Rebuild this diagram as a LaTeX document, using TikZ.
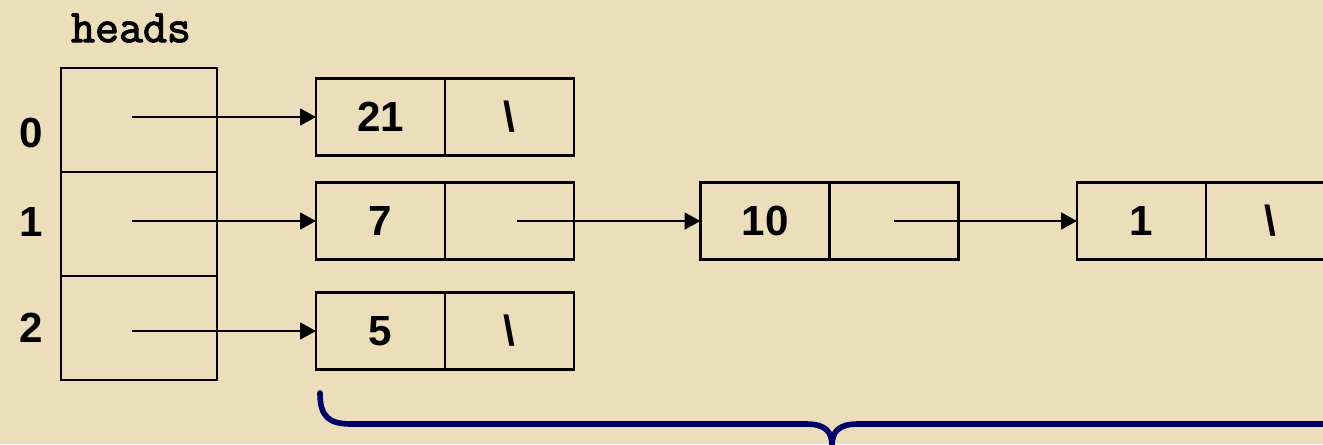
\documentclass[tikz,border=0pt]{standalone}
\usepackage{fontspec}
\setmainfont{Liberation Sans}
\newfontfamily\headsfont[FakeBold=2.5]{Latin Modern Mono}
\usetikzlibrary{arrows.meta,positioning}
\definecolor{parchment}{RGB}{236,222,186}
\definecolor{bracenavy}{RGB}{0,0,102}

\begin{document}
\begin{tikzpicture}[x=0.02cm, y=-0.02cm,
    every node/.style={font=\fontsize{24}{28}\selectfont\bfseries},
    slot/.style={draw, line width=1.3pt, outer sep=0pt, inner sep=0pt,
      minimum width=3.12cm, minimum height=2.08cm},
    cell/.style={draw, line width=1.3pt, outer sep=0pt, inner sep=0pt,
      minimum width=2.58cm, minimum height=1.54cm},
    ptr/.style={line width=1.3pt, -{Triangle[length=9pt,width=9.5pt]}}]
    \fill[parchment] (0,0) rectangle (1323,444);
    \useasboundingbox (0,0) rectangle (1323,444);

    % heads array
    \node[font=\fontsize{26.5}{28}\selectfont\headsfont] (heads) at (131,28) {heads};
    \node[slot] (h0) at (139,120) {};
    \node[slot, below=0pt of h0] (h1) {};
    \node[slot, below=0pt of h1] (h2) {};
    \node (i0) at (31,133) {0};
    \node (i1) at (31,222) {1};
    \node (i2) at (31,328) {2};

    % list nodes
    \node[cell] (d0) at (380.5,117) {21};
    \node[cell, right=0pt of d0] (p0) {\textbackslash};
    \node[cell] (d1) at (380.5,221) {7};
    \node[cell, right=0pt of d1] (p1) {};
    \node[cell] (d1b) at (765,221) {10};
    \node[cell, right=0pt of d1b] (p1b) {};
    \node[cell] (d1c) at (1141.5,221) {1};
    \node[cell, right=0pt of d1c] (p1c) {\textbackslash};
    \node[cell] (d2) at (380.5,331) {5};
    \node[cell, right=0pt of d2] (p2) {\textbackslash};

    % pointers
    \draw[ptr] ([xshift=-0.14cm]h0.center |- d0.west) -- (d0.west);
    \draw[ptr] ([xshift=-0.14cm]h1.center |- d1.west) -- (d1.west);
    \draw[ptr] ([xshift=-0.14cm]h2.center |- d2.west) -- (d2.west);
    \draw[ptr] ([xshift=0.16cm]p1.center) -- (d1b.west);
    \draw[ptr] (p1b.center) -- (d1c.west);

    % brace
    \draw[bracenavy, line width=3.2pt, line cap=round, line join=round]
      (320,393) .. controls (320,418) and (330,424) .. (352,424) -- (806,424)
      .. controls (826,424) and (832,432) .. (832,446)
      .. controls (832,432) and (838,424) .. (858,424) -- (1323,424);
\end{tikzpicture}
\end{document}
